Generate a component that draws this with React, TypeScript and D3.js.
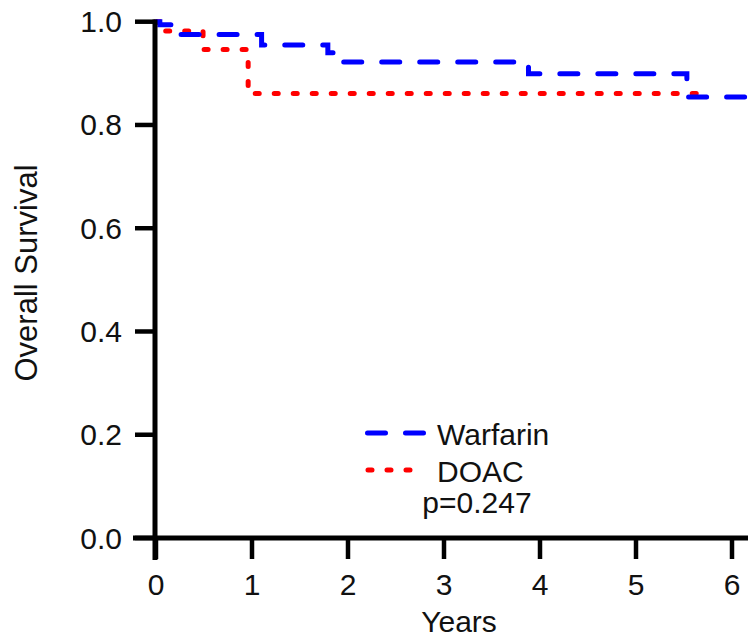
import React from "react";
import * as d3 from "d3";

const xTicks = [0, 1, 2, 3, 4, 5, 6];
const yTicks = [0, 0.2, 0.4, 0.6, 0.8, 1.0];

// Kaplan-Meier steps: [time (years), survival]
const warfarinTimes = [0, 0.04, 0.21, 1.1, 1.79, 1.93, 3.88, 5.53, 6.4];
const warfarinSurv = [1.0, 0.994, 0.975, 0.955, 0.94, 0.922, 0.899, 0.854, 0.854];
const doacTimes = [0, 0.03, 0.49, 0.96, 5.65];
const doacSurv = [1.0, 0.982, 0.946, 0.861, 0.861];

const seriesNames = ["Warfarin", "DOAC"];
const pValueText = "p=0.247";

const W = 748;
const H = 641;
const FONT = "'Liberation Sans', Arial, Helvetica, sans-serif";

export default function App() {
  const x = d3.scaleLinear().domain([0, 6]).range([156, 732]);
  const y = d3.scaleLinear().domain([0, 1]).range([538, 21.7]);

  const line = d3
    .line<[number, number]>()
    .x((d) => x(d[0]))
    .y((d) => y(d[1]))
    .curve(d3.curveStepAfter);

  const wData = warfarinTimes.map((t, i) => [t, warfarinSurv[i]] as [number, number]);
  const dData = doacTimes.map((t, i) => [t, doacSurv[i]] as [number, number]);

  const blueDash = "18 20";
  const redDash = "4 15";

  return (
    <div style={{ position: "absolute", left: 0, top: 0 }}>
      <svg width={W} height={H} style={{ display: "block", background: "#fff" }} fontFamily={FONT}>
        <rect x={0} y={0} width={W} height={H} fill="#fff" />
        {/* curves */}
        <path
          d={line(dData) || ""}
          fill="none"
          stroke="#ff0000"
          strokeWidth={5}
          strokeDasharray={redDash}
          strokeLinecap="round"
        />
        <path
          d={line(wData) || ""}
          fill="none"
          stroke="#0000ff"
          strokeWidth={5}
          strokeDasharray={blueDash}
          strokeLinecap="round"
        />
        {/* y axis */}
        <line x1={155} x2={155} y1={19.5} y2={560} stroke="#000" strokeWidth={5} />
        {yTicks.map((t) => (
          <g key={"y" + t}>
            <line x1={135} x2={155} y1={y(t)} y2={y(t)} stroke="#000" strokeWidth={4.5} />
            <text
              x={122}
              y={y(t)}
              textAnchor="end"
              dominantBaseline="central"
              fontSize={30}
              fill="#111"
            >
              {t.toFixed(1)}
            </text>
          </g>
        ))}
        {/* x axis */}
        <line x1={133} x2={W} y1={538} y2={538} stroke="#000" strokeWidth={5} />
        {xTicks.map((t) => (
          <g key={"x" + t}>
            <line x1={x(t)} x2={x(t)} y1={538} y2={559} stroke="#000" strokeWidth={4.5} />
            <text x={x(t)} y={595} textAnchor="middle" fontSize={30} fill="#111">
              {t}
            </text>
          </g>
        ))}
        {/* axis titles */}
        <text x={459} y={632} textAnchor="middle" fontSize={30} fill="#111">
          Years
        </text>
        <text
          transform="translate(37,273) rotate(-90)"
          textAnchor="middle"
          fontSize={31}
          fill="#111"
        >
          Overall Survival
        </text>
        {/* legend */}
        <line
          x1={365}
          x2={423}
          y1={433}
          y2={433}
          stroke="#0000ff"
          strokeWidth={5}
          strokeDasharray={blueDash}
          strokeLinecap="round"
          transform="translate(2.5,0)"
        />
        <text x={437} y={445} fontSize={30} fill="#111">
          {seriesNames[0]}
        </text>
        <line
          x1={368}
          x2={413}
          y1={470}
          y2={470}
          stroke="#ff0000"
          strokeWidth={5}
          strokeDasharray={redDash}
          strokeLinecap="round"
        />
        <text x={437} y={482} fontSize={30} fill="#111">
          {seriesNames[1]}
        </text>
        <text x={477} y={513} textAnchor="middle" fontSize={30} fill="#111">
          {pValueText}
        </text>
      </svg>
    </div>
  );
}
